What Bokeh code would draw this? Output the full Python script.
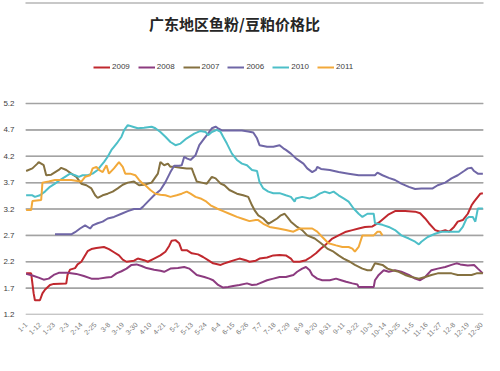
import math
from bokeh.plotting import figure
from bokeh.models import Range1d, FixedTicker, Label, Legend, LegendItem
from bokeh.embed import file_html
from bokeh.resources import INLINE

title_text = "广东地区鱼粉/豆粕价格比"

tick_days = list(range(0, 364, 11))
tick_labels = ["1-1", "1-12", "1-23", "2-3", "2-14", "2-25", "3-8", "3-19", "3-30",
               "4-10", "4-21", "5-2", "5-13", "5-24", "6-4", "6-15", "6-26", "7-7",
               "7-18", "7-29", "8-9", "8-20", "8-31", "9-11", "9-22", "10-3", "10-14",
               "10-25", "11-5", "11-16", "11-27", "12-8", "12-19", "12-30"]
y_ticks = [1.2, 1.7, 2.2, 2.7, 3.2, 3.7, 4.2, 4.7, 5.2]
y_labels = ["1.2", "1.7", "2.2", "2.7", "3.2", "3.7", "4.2", "4.7", "5.2"]

# day-of-year index / price ratio
d2009 = [0,4,6,7,11,13,15,19,22,32,33,35,39,41,44,46,49,52,56,62,66,70,74,77,80,86,89,94,97,102,
         107,111,114,116,119,122,124,128,132,137,141,145,149,155,158,162,166,170,175,178,183,186,
         192,197,202,207,211,213,218,223,227,231,235,238,240,244,249,255,260,265,270,276,281,289,
         294,302,310,314,318,321,326,330,334,337,341,344,348,352,355,357,360,362,364]
v2009 = [1.98,1.98,1.6,1.47,1.47,1.6,1.67,1.76,1.78,1.79,1.95,2.05,2.08,2.15,2.2,2.28,2.4,2.44,2.46,
         2.48,2.44,2.38,2.32,2.24,2.2,2.22,2.26,2.23,2.2,2.26,2.32,2.39,2.5,2.6,2.61,2.55,2.42,2.42,
         2.36,2.34,2.29,2.23,2.17,2.14,2.17,2.2,2.23,2.26,2.23,2.2,2.22,2.26,2.28,2.32,2.33,2.32,2.26,
         2.2,2.2,2.23,2.29,2.36,2.45,2.51,2.55,2.64,2.7,2.77,2.8,2.83,2.86,2.87,2.94,3.1,3.16,3.16,
         3.15,3.12,3.02,2.93,2.8,2.77,2.8,2.77,2.86,2.96,2.99,3.11,3.27,3.34,3.43,3.49,3.5]

d2008 = [0,5,10,14,18,22,26,33,40,46,52,58,64,68,72,76,80,84,88,92,96,102,107,110,115,121,126,130,
         133,136,142,146,149,153,157,161,165,170,176,180,184,186,192,197,202,207,213,216,220,223,
         226,228,232,236,242,247,251,255,260,264,265,273,277,278,281,285,289,294,299,305,310,314,
         318,323,328,334,339,343,346,352,357,360,364]
v2008 = [1.97,1.94,1.9,1.86,1.88,1.95,1.99,1.99,1.97,1.93,1.88,1.88,1.9,1.91,1.98,2.02,2.07,2.14,
         2.15,2.12,2.08,2.05,2.03,2.01,2.07,2.08,2.1,2.07,2.01,1.95,1.91,1.88,1.85,1.76,1.71,1.72,
         1.74,1.76,1.79,1.76,1.77,1.79,1.85,1.88,1.91,1.91,1.95,2.01,2.07,2.1,2.04,1.95,1.88,1.85,
         1.85,1.88,1.85,1.82,1.79,1.77,1.72,1.72,1.72,1.85,1.95,2.04,2.01,2.04,2.01,1.95,1.88,1.85,
         1.91,2.04,2.07,2.1,2.14,2.17,2.15,2.13,2.14,2.07,1.98]

d2007 = [0,5,9,10,14,16,20,26,28,32,36,40,44,48,52,55,57,61,65,69,73,77,81,86,90,94,100,105,107,
         110,113,115,118,123,128,132,134,136,140,144,148,151,155,158,162,168,173,177,180,182,185,
         189,193,196,200,203,206,209,211,216,220,224,230,235,240,245,249,253,258,262,268,272,275,
         278,284,288,292,297,302,307,313,318,323,328,334,339,344,349,355,359,364]
v2007 = [3.92,3.97,4.06,4.09,4.03,3.84,3.85,3.94,3.98,3.94,3.87,3.81,3.68,3.65,3.59,3.46,3.41,3.46,
         3.49,3.53,3.59,3.66,3.7,3.72,3.65,3.66,3.7,3.87,4.09,4.03,4.06,4.0,4.0,3.98,3.97,3.97,3.84,
         3.72,3.7,3.68,3.81,3.78,3.68,3.65,3.56,3.49,3.46,3.43,3.27,3.18,3.08,3.02,2.92,2.96,3.02,
         3.08,3.11,3.02,2.96,2.86,2.8,2.7,2.64,2.55,2.45,2.39,2.32,2.26,2.2,2.14,2.07,2.04,2.04,2.17,
         2.14,2.07,2.04,2.01,1.95,1.91,1.88,1.91,1.95,1.98,1.98,1.98,1.95,1.95,1.95,1.98,1.98]

d2006 = [23,36,39,43,47,51,53,57,61,65,70,76,81,86,91,93,97,102,107,111,115,118,122,124,126,128,
         131,135,138,142,145,148,151,153,156,161,166,172,177,181,184,186,192,197,202,205,207,211,
         215,221,224,228,231,232,235,242,249,257,265,276,278,280,284,289,294,299,305,310,315,320,
         324,328,334,339,344,349,352,355,357,360,364]
v2006 = [2.72,2.72,2.76,2.83,2.89,2.83,2.89,2.93,2.96,3.02,3.05,3.11,3.16,3.2,3.2,3.24,3.34,3.46,
         3.56,3.71,3.9,4.02,4.02,4.03,4.19,4.16,4.13,4.22,4.41,4.54,4.63,4.73,4.76,4.73,4.69,4.69,
         4.69,4.69,4.67,4.65,4.54,4.41,4.38,4.38,4.41,4.35,4.32,4.25,4.16,4.06,3.97,3.9,3.94,4.0,
         3.96,3.94,3.9,3.87,3.84,3.84,3.84,3.89,3.84,3.79,3.75,3.68,3.62,3.58,3.59,3.59,3.59,3.65,
         3.7,3.78,3.84,3.92,3.97,3.98,3.92,3.87,3.87]

d2010 = [0,5,7,11,15,19,23,27,31,35,39,42,45,49,53,57,60,62,65,68,70,73,76,78,81,85,89,94,100,103,
         107,111,115,119,123,128,134,139,143,145,148,152,155,157,160,164,168,172,176,180,184,186,
         189,193,197,202,207,211,214,215,220,226,230,234,238,242,245,249,253,257,261,265,268,272,
         277,278,284,289,294,299,305,310,313,315,320,326,331,341,345,348,351,353,356,358,360,364]
v2010 = [3.46,3.46,3.43,3.46,3.53,3.62,3.68,3.75,3.81,3.87,3.84,3.81,3.84,3.84,3.87,3.94,4.03,4.09,
         4.19,4.32,4.38,4.47,4.57,4.69,4.79,4.76,4.73,4.74,4.76,4.73,4.66,4.57,4.47,4.41,4.44,4.54,
         4.63,4.68,4.66,4.6,4.66,4.7,4.66,4.57,4.44,4.25,4.13,4.06,4.03,3.94,3.92,3.71,3.59,3.53,3.5,
         3.5,3.46,3.43,3.34,3.4,3.43,3.4,3.43,3.49,3.53,3.5,3.53,3.46,3.4,3.34,3.21,3.11,3.05,3.11,
         3.11,2.93,2.9,2.86,2.8,2.7,2.64,2.58,2.53,2.58,2.67,2.73,2.77,2.77,2.77,2.86,3.02,3.05,3.05,
         2.96,3.21,3.21]

d2011 = [0,4,5,12,13,18,23,36,41,44,47,51,53,56,58,61,64,66,70,74,77,79,83,87,90,93,95,99,103,107,
         111,115,120,124,128,131,135,139,143,147,152,157,162,168,173,178,183,185,189,194,201,207,
         213,218,223,228,232,236,241,247,252,257,260,262,265,268,272,277,280,282,284]
v2011 = [3.18,3.18,3.35,3.37,3.7,3.72,3.75,3.75,3.73,3.72,3.81,3.84,3.97,4.0,3.94,3.9,4.03,3.87,
         3.97,4.09,4.0,3.87,3.87,3.84,3.75,3.68,3.65,3.56,3.49,3.47,3.46,3.43,3.46,3.49,3.53,3.49,
         3.43,3.4,3.35,3.27,3.21,3.16,3.11,3.05,3.01,2.97,2.99,2.99,2.92,2.86,2.83,2.8,2.77,2.83,
         2.83,2.83,2.77,2.67,2.55,2.51,2.48,2.48,2.45,2.39,2.48,2.7,2.7,2.7,2.77,2.77,2.7]

series_names = ["2009", "2008", "2007", "2006", "2010", "2011"]
series_days = [d2009, d2008, d2007, d2006, d2010, d2011]
series_vals = [v2009, v2008, v2007, v2006, v2010, v2011]
series_colors = ["#c0282e", "#8c3b7f", "#857140", "#6f66a6", "#4dbfc8", "#f2a93a"]

FIG_W = 500
FIG_H = 371
LEFT = 22
RIGHT = 17
BOTTOM = 57
PX_PER_UNIT = 52.75
X_START, X_END = -0.5, 364.5
y_top = 1.2 + (FIG_H - BOTTOM) / PX_PER_UNIT  # frame extends to canvas top

p = figure(width=FIG_W, height=FIG_H, output_backend="svg", toolbar_location=None,
           x_range=Range1d(X_START, X_END), y_range=Range1d(1.2, y_top),
           min_border_left=LEFT, min_border_right=RIGHT, min_border_top=0,
           min_border_bottom=BOTTOM)
p.outline_line_color = None
p.background_fill_color = None
p.border_fill_color = "white"
p.styles = {"outline": "2px solid #c8c8c8", "outline-offset": "-4px"}

p.xgrid.visible = False
p.ygrid.visible = False
n = len(y_ticks)
# gridlines drawn twice (thin bars and segments) behind the series
p.hbar(y=y_ticks, left=X_START, right=X_END, height=1.5 / PX_PER_UNIT,
       fill_color="#a3a3a3", line_color=None)
p.segment(x0=[X_START] * n, x1=[X_END] * n, y0=y_ticks, y1=y_ticks,
          line_color="#a3a3a3", line_width=1.2)

p.yaxis.ticker = FixedTicker(ticks=y_ticks)
p.yaxis.major_label_overrides = dict(zip(y_ticks, y_labels))
p.yaxis.axis_line_color = None
p.yaxis.major_tick_line_color = None
p.yaxis.minor_tick_line_color = None
p.yaxis.major_label_text_font_size = "8px"
p.yaxis.major_label_text_color = "#404040"
p.yaxis.major_label_standoff = 5

p.xaxis.ticker = FixedTicker(ticks=tick_days)
p.xaxis.major_label_overrides = dict(zip(tick_days, tick_labels))
p.xaxis.major_label_orientation = math.pi / 4
p.xaxis.axis_line_color = None
p.xaxis.major_tick_line_color = None
p.xaxis.minor_tick_line_color = None
p.xaxis.major_label_text_font_size = "7px"
p.xaxis.major_label_text_color = "#7a7a7a"
p.xaxis.major_label_standoff = 3

items = []
for name, dd, vv, col in zip(series_names, series_days, series_vals, series_colors):
    r = p.line(dd, vv, line_color=col, line_width=2)
    items.append(LegendItem(label=name, renderers=[r]))

legend = Legend(items=items, location=(68, 243), orientation="horizontal",
                border_line_color=None, background_fill_alpha=0,
                label_text_font_size="8px", label_text_color="#404040",
                glyph_width=17, glyph_height=8, label_height=8, label_width=17,
                label_standoff=2, spacing=8, padding=0, margin=0)
p.add_layout(legend, "center")

p.add_layout(Label(x=209, y=291, x_units="screen", y_units="screen", text=title_text,
                   text_font="Noto Sans CJK SC", text_font_style="bold",
                   text_font_size="15px", text_align="center", text_baseline="middle",
                   text_color="#262626"))

open("out.html", "w").write(file_html(p, INLINE))
